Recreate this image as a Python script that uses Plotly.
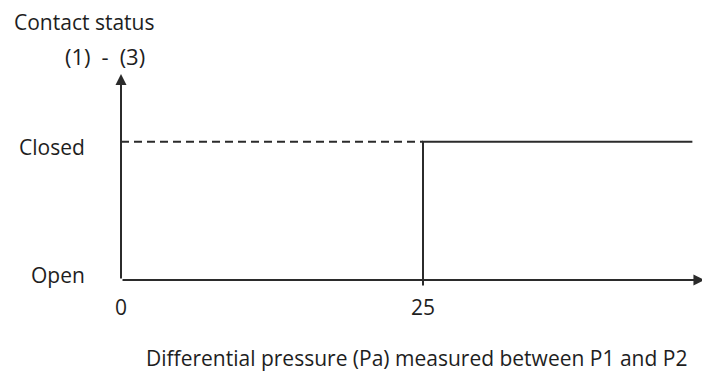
import plotly.graph_objects as go

# Data
state_labels = ["Open", "Closed"]
state_values = [0, 1]
x_tick_values = [0, 25]
x_tick_labels = ["0", "25"]
switch_point = 25
x_end = 47.3
x_axis_end = 48.3
y_axis_end = 1.49

y_title_line1 = "Contact status"
y_title_line2 = "(1)\u2002-\u2002(3)"
x_title = "Differential pressure (Pa) measured between P1 and P2"

INK = "#1e1e1e"
LINE = "#2b2b2b"
FONT = "Open Sans"
FS = 21

W, H = 702, 372
# Pixel mapping: x=0 at px 121, x=25 at px 423; y=0 at py 280, y=1 at py 141.7
X0_PX, X25_PX, Y0_PX, Y1_PX = 121, 423, 280, 141.7
px_per_x = (X25_PX - X0_PX) / 25
px_per_y = Y0_PX - Y1_PX

fig = go.Figure()

# Dashed reference at Closed level before the switch point
fig.add_trace(go.Scatter(
    x=[x_tick_values[0], switch_point], y=[state_values[1], state_values[1]],
    mode="lines", line=dict(color=LINE, width=2, dash="8px,5px"),
    hoverinfo="skip", showlegend=False))

# Solid step: switches at 25 and remains Closed
fig.add_trace(go.Scatter(
    x=[switch_point, switch_point, x_end],
    y=[state_values[0], state_values[1], state_values[1]],
    mode="lines", line=dict(color=LINE, width=2),
    hoverinfo="skip", showlegend=False))

# Small tick at the switch point on the x axis
fig.add_trace(go.Scatter(
    x=[switch_point], y=[state_values[0]], mode="markers",
    marker=dict(symbol="line-ns", size=8, line=dict(color=LINE, width=2)),
    hoverinfo="skip", showlegend=False))

# Axes drawn as arrows
fig.add_annotation(x=x_axis_end, y=0, ax=0, ay=0, xref="x", yref="y",
                   axref="x", ayref="y", text="", showarrow=True,
                   arrowhead=2, arrowsize=1.1, arrowwidth=2, arrowcolor=LINE)
fig.add_annotation(x=0, y=y_axis_end, ax=0, ay=0, xref="x", yref="y",
                   axref="x", ayref="y", text="", showarrow=True,
                   arrowhead=2, arrowsize=1.1, arrowwidth=2, arrowcolor=LINE)

font = dict(family=FONT, size=FS, color=INK)

# Y state labels
y_shifts = {"Open": 5, "Closed": -5}
for lab, v in zip(state_labels, state_values):
    fig.add_annotation(x=0, y=v, xref="x", yref="y", text=lab,
                       showarrow=False, xanchor="right", yanchor="middle",
                       xshift=-34, yshift=y_shifts[lab], font=font)
# X tick labels
for lab, v in zip(x_tick_labels, x_tick_values):
    fig.add_annotation(x=v, y=0, xref="x", yref="y", text=lab,
                       showarrow=False, xanchor="center", yanchor="middle",
                       yshift=-27, font=font)

# Titles
fig.add_annotation(x=12 / W, y=1 - 22 / H, xref="paper", yref="paper",
                   text=y_title_line1, showarrow=False, xanchor="left", yanchor="middle",
                   font=font)
fig.add_annotation(x=105 / W, y=1 - 56 / H, xref="paper", yref="paper",
                   text=y_title_line2, showarrow=False, xanchor="center", yanchor="middle",
                   font=dict(family=FONT, size=22, color=INK))
fig.add_annotation(x=416 / W, y=1 - 358 / H, xref="paper", yref="paper",
                   text=x_title, showarrow=False, xanchor="center", yanchor="middle",
                   font=font)

fig.update_layout(
    width=W, height=H,
    margin=dict(l=0, r=0, t=0, b=0),
    paper_bgcolor="white", plot_bgcolor="white",
    xaxis=dict(visible=False, range=[-X0_PX / px_per_x, (W - X0_PX) / px_per_x], fixedrange=True),
    yaxis=dict(visible=False, range=[-(H - Y0_PX) / px_per_y, Y0_PX / px_per_y], fixedrange=True),
)

fig.write_html("out.html", config={"displayModeBar": False},
               post_script="document.body.style.margin='0';document.body.style.overflow='hidden';")
